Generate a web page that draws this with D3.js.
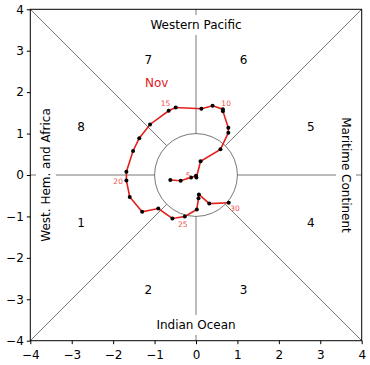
<!DOCTYPE html>
<html>
<head>
<meta charset="utf-8">
<script src="https://cdn.jsdelivr.net/npm/d3@7"></script>
<style>
  body { margin: 0; background: #fff; }
  svg { font-family: "DejaVu Sans", sans-serif; }
</style>
</head>
<body>
<div id="w"></div>
<script>
// RMM1 / RMM2 for November, day by day
var days = d3.range(1, 31)
var rmm1 = [-0.62,-0.37,-0.12,0.00,0.01,0.11,0.59,0.78,0.78,0.65,
            0.65,0.40,0.13,-0.49,-0.66,-1.11,-1.37,-1.52,-1.68,-1.68,
            -1.60,-1.30,-0.91,-0.57,-0.27,0.02,0.06,0.07,0.32,0.79]
var rmm2 = [-0.12,-0.14,-0.06,-0.02,-0.06,0.33,0.62,1.02,1.14,1.54,
            1.59,1.67,1.60,1.63,1.55,1.22,0.89,0.58,0.08,-0.13,
            -0.53,-0.89,-0.81,-1.05,-1.00,-0.83,-0.56,-0.47,-0.69,-0.67]
var labelDays = [5, 10, 15, 20, 25, 30]
var monthName = "Nov"
var phases = [1, 2, 3, 4, 5, 6, 7, 8]
var ticks = [-4, -3, -2, -1, 0, 1, 2, 3, 4]

var W = 370, H = 365
var svg = d3.select("#w").append("svg").attr("width", W).attr("height", H)
var x = d3.scaleLinear().domain([-4, 4]).range([30.3, 361.7])
var y = d3.scaleLinear().domain([-4, 4]).range([340.7, 9.3])
var g = svg.append("g")
var grey = "#555"

// diagonals from corners to unit circle
var c45 = Math.SQRT1_2
;[[1,1],[1,-1],[-1,1],[-1,-1]].forEach(function(s){
  g.append("line").attr("x1", x(4*s[0])).attr("y1", y(4*s[1]))
    .attr("x2", x(c45*s[0])).attr("y2", y(c45*s[1]))
    .attr("stroke", grey).attr("stroke-width", 0.8)
})
// axis lines from circle to edges
;[[1,0],[-1,0],[0,1],[0,-1]].forEach(function(s){
  g.append("line").attr("x1", x(4*s[0])).attr("y1", y(4*s[1]))
    .attr("x2", x(s[0])).attr("y2", y(s[1]))
    .attr("stroke", grey).attr("stroke-width", 0.8)
})
g.append("circle").attr("cx", x(0)).attr("cy", y(0))
  .attr("r", x(1) - x(0)).attr("fill", "none")
  .attr("stroke", grey).attr("stroke-width", 0.8)

// phase numbers
phases.forEach(function(p){
  var ang = Math.PI + (p - 1) * Math.PI / 4 + Math.PI / 8
  g.append("text").attr("x", x(3*Math.cos(ang))).attr("y", y(3*Math.sin(ang)))
    .attr("text-anchor", "middle").attr("dominant-baseline", "central")
    .attr("font-size", 12).text(p)
})

// region names with white boxes
function boxed(tx, ty, rot, str){
  var t = g.append("g").attr("transform", "translate(" + x(tx) + "," + y(ty) + ") rotate(" + rot + ")")
  var r = t.append("rect").attr("fill", "#fff")
  var te = t.append("text").attr("text-anchor", "middle").attr("dominant-baseline", "central")
    .attr("font-size", 12).text(str)
  var b = te.node().getBBox()
  r.attr("x", b.x - 3).attr("y", b.y - 3).attr("width", b.width + 6).attr("height", b.height + 6)
}
boxed(0, 3.62, 0, "Western Pacific")
boxed(0, -3.62, 0, "Indian Ocean")
boxed(-3.62, 0, -90, "West. Hem. and Africa")
boxed(3.62, 0, 90, "Maritime Continent")

// trajectory
var pts = days.map(function(d, i){ return [rmm1[i], rmm2[i]] })
g.append("path").datum(pts)
  .attr("d", d3.line().x(function(d){ return x(d[0]) }).y(function(d){ return y(d[1]) }))
  .attr("fill", "none").attr("stroke", "#e3201b").attr("stroke-width", 1.6)
g.selectAll(".dot").data(pts).enter().append("circle")
  .attr("cx", function(d){ return x(d[0]) }).attr("cy", function(d){ return y(d[1]) })
  .attr("r", 2).attr("fill", "#000")

labelDays.forEach(function(d){
  var p = pts[d - 1], r = Math.hypot(p[0], p[1]) || 1
  var ux = p[0] / r, uy = p[1] / r
  if (d === 5) { ux = -1; uy = 0.3 }
  g.append("text").attr("x", x(p[0] + 0.2*ux)).attr("y", y(p[1] + 0.2*uy))
    .attr("text-anchor", "middle").attr("dominant-baseline", "central")
    .attr("font-size", 7.5).attr("fill", "#f05050").text(d)
})
g.append("text").attr("x", x(-0.95)).attr("y", y(2.21))
  .attr("text-anchor", "middle").attr("dominant-baseline", "central")
  .attr("font-size", 12).attr("fill", "#e3201b").text(monthName)

// axes
var fmt = function(d){ return d < 0 ? "\u2212" + (-d) : d }
var ax = svg.append("g").attr("transform", "translate(0," + y(-4) + ")")
  .call(d3.axisBottom(x).tickValues(ticks).tickFormat(fmt).tickSize(3.5).tickSizeOuter(0))
var ay = svg.append("g").attr("transform", "translate(" + x(-4) + ",0)")
  .call(d3.axisLeft(y).tickValues(ticks).tickFormat(fmt).tickSize(3.5).tickSizeOuter(0))
;[ax, ay].forEach(function(a){
  a.selectAll("text").attr("font-size", 12).attr("font-family", "DejaVu Sans").attr("fill", "#000")
  a.select(".domain").remove()
})
ax.selectAll("text").attr("dy", "0.95em")
svg.append("rect").attr("x", x(-4)).attr("y", y(4))
  .attr("width", x(4) - x(-4)).attr("height", y(-4) - y(4))
  .attr("fill", "none").attr("stroke", "#000").attr("stroke-width", 1)
</script>
</body>
</html>
